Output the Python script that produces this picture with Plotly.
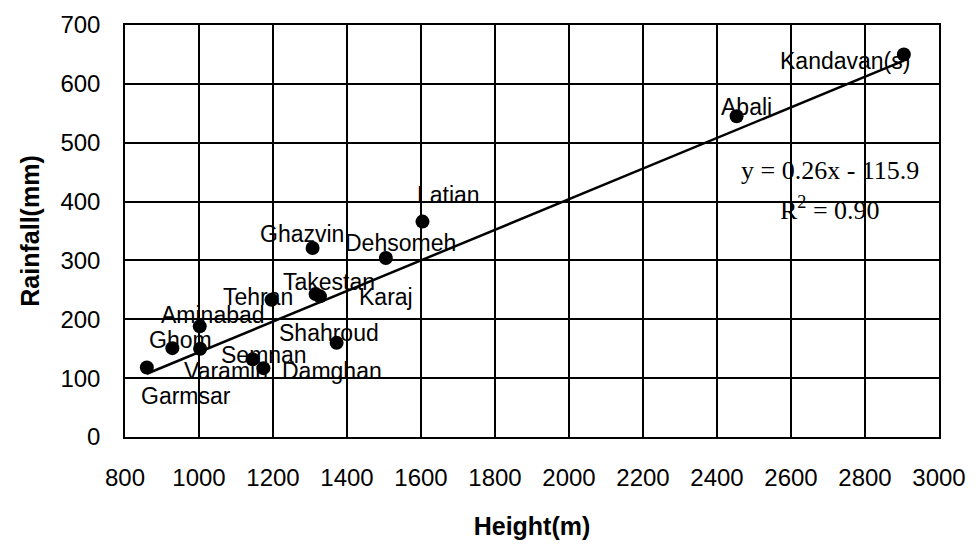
import plotly.graph_objects as go

# ---- data ----
stations = ["Garmsar", "Ghom", "Aminabad", "Varamin", "Semnan", "Damghan", "Tehran",
            "Takestan", "Karaj", "Shahroud", "Ghazvin", "Dehsomeh", "Latian", "Abali",
            "Kandavan(s)"]
height_m = [859, 928, 1002, 1003, 1145, 1174, 1196, 1327, 1315, 1372, 1307, 1505, 1604, 2453, 2905]
rainfall_mm = [118, 151, 188, 150, 132, 117, 233, 239, 243, 160, 321, 304, 366, 545, 650]

trend_slope = 0.26
trend_intercept = -115.9
equation_text = "y = 0.26x - 115.9"
r2_text = "R<sup>2</sup> = 0.90"

x_ticks = [800, 1000, 1200, 1400, 1600, 1800, 2000, 2200, 2400, 2600, 2800, 3000]
y_ticks = [0, 100, 200, 300, 400, 500, 600, 700]

# label offsets from each marker, in pixels (style, not data)
label_dx = [39, 8, 13, 26, 11, 69, -14, 9, 70, -8, -11, 15, 26, 10, -59]
label_dy = [-28, 8, 11, -22, 4, -3, 3, 14, -3, 10, 14, 15, 27, 9, -7]

FONT = "Liberation Sans, Arial, sans-serif"
SERIF = "Liberation Serif, Times New Roman, serif"

fig = go.Figure()

# trend line
x_line = [min(height_m), max(height_m)]
y_line = [trend_slope * v + trend_intercept for v in x_line]
fig.add_trace(go.Scatter(x=x_line, y=y_line, mode="lines",
                         line=dict(color="black", width=2.5),
                         hoverinfo="skip", showlegend=False))

# stations
fig.add_trace(go.Scatter(x=height_m, y=rainfall_mm, mode="markers",
                         marker=dict(color="black", size=14),
                         text=stations, showlegend=False))

annotations = []
for name, xv, yv, dx, dy in zip(stations, height_m, rainfall_mm, label_dx, label_dy):
    annotations.append(dict(x=xv, y=yv, xref="x", yref="y", text=name,
                            showarrow=False, xshift=dx, yshift=dy,
                            xanchor="center", yanchor="middle",
                            font=dict(family=FONT, size=23, color="black")))

annotations.append(dict(x=0.866, y=0.648, xref="paper", yref="paper",
                        text=equation_text, showarrow=False,
                        xanchor="center", yanchor="middle",
                        font=dict(family=SERIF, size=26, color="black")))
annotations.append(dict(x=0.866, y=0.555, xref="paper", yref="paper",
                        text=r2_text, showarrow=False,
                        xanchor="center", yanchor="middle",
                        font=dict(family=SERIF, size=26, color="black")))

fig.update_layout(
    width=976, height=545,
    margin=dict(l=125, r=37, t=25, b=108),
    paper_bgcolor="white", plot_bgcolor="white",
    font=dict(family=FONT, color="black"),
    annotations=annotations,
)

fig.update_xaxes(
    range=[800, 3000], tickvals=x_ticks, ticktext=[str(v) for v in x_ticks],
    showgrid=True, gridcolor="black", gridwidth=1.5,
    showline=True, linecolor="black", linewidth=1.5, mirror=True,
    zeroline=False, ticks="", ticklabelstandoff=18, automargin=False,
    tickfont=dict(family=FONT, size=24, color="black"),
    title=dict(text="<b>Height(m)</b>", standoff=28,
               font=dict(family=FONT, size=25, color="black")),
)
fig.update_yaxes(
    range=[0, 700], tickvals=y_ticks, ticktext=[str(v) for v in y_ticks],
    showgrid=True, gridcolor="black", gridwidth=1.5,
    showline=True, linecolor="black", linewidth=1.5, mirror=True,
    zeroline=False, ticks="", ticklabelstandoff=18, automargin=False,
    tickfont=dict(family=FONT, size=24, color="black"),
    title=dict(text="<b>Rainfall(mm)</b>", standoff=14,
               font=dict(family=FONT, size=25, color="black")),
)

fig.write_html("out.html", config={"displayModeBar": False},
               post_script="document.body.style.margin='0';")
